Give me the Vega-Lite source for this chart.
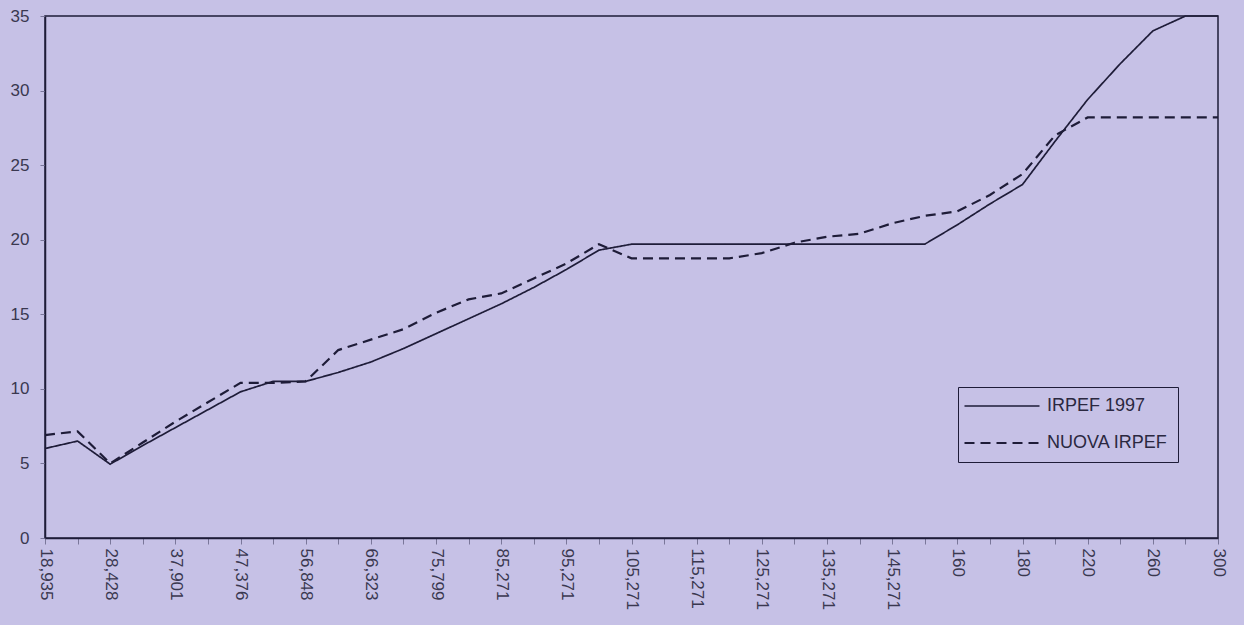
{
  "$schema": "https://vega.github.io/schema/vega-lite/v6.json",
  "width": 1173,
  "height": 522,
  "autosize": {"type": "none"},
  "padding": {"left": 45, "top": 16, "right": 26, "bottom": 87},
  "background": "#c6c1e6",
  "config": {
    "font": "Liberation Sans",
    "view": {"stroke": "#1e1c38", "strokeWidth": 1.5}
  },
  "datasets": {
    "irpef": [
      {"reddito": "18,935", "IRPEF 1997": 6.0, "NUOVA IRPEF": 6.9},
      {"reddito": "23,681", "IRPEF 1997": 6.5, "NUOVA IRPEF": 7.15},
      {"reddito": "28,428", "IRPEF 1997": 4.95, "NUOVA IRPEF": 5.0},
      {"reddito": "33,164", "IRPEF 1997": 6.2, "NUOVA IRPEF": 6.4},
      {"reddito": "37,901", "IRPEF 1997": 7.4, "NUOVA IRPEF": 7.8},
      {"reddito": "42,638", "IRPEF 1997": 8.6, "NUOVA IRPEF": 9.1},
      {"reddito": "47,376", "IRPEF 1997": 9.8, "NUOVA IRPEF": 10.4},
      {"reddito": "52,112", "IRPEF 1997": 10.5, "NUOVA IRPEF": 10.4},
      {"reddito": "56,848", "IRPEF 1997": 10.5, "NUOVA IRPEF": 10.5},
      {"reddito": "61,585", "IRPEF 1997": 11.1, "NUOVA IRPEF": 12.6},
      {"reddito": "66,323", "IRPEF 1997": 11.8, "NUOVA IRPEF": 13.3},
      {"reddito": "71,061", "IRPEF 1997": 12.7, "NUOVA IRPEF": 14.0},
      {"reddito": "75,799", "IRPEF 1997": 13.7, "NUOVA IRPEF": 15.1},
      {"reddito": "80,535", "IRPEF 1997": 14.7, "NUOVA IRPEF": 16.0},
      {"reddito": "85,271", "IRPEF 1997": 15.7, "NUOVA IRPEF": 16.4},
      {"reddito": "90,271", "IRPEF 1997": 16.8, "NUOVA IRPEF": 17.4},
      {"reddito": "95,271", "IRPEF 1997": 18.0, "NUOVA IRPEF": 18.4},
      {"reddito": "100,271", "IRPEF 1997": 19.3, "NUOVA IRPEF": 19.7},
      {"reddito": "105,271", "IRPEF 1997": 19.7, "NUOVA IRPEF": 18.75},
      {"reddito": "110,271", "IRPEF 1997": 19.7, "NUOVA IRPEF": 18.75},
      {"reddito": "115,271", "IRPEF 1997": 19.7, "NUOVA IRPEF": 18.75},
      {"reddito": "120,271", "IRPEF 1997": 19.7, "NUOVA IRPEF": 18.75},
      {"reddito": "125,271", "IRPEF 1997": 19.7, "NUOVA IRPEF": 19.1},
      {"reddito": "130,271", "IRPEF 1997": 19.7, "NUOVA IRPEF": 19.8},
      {"reddito": "135,271", "IRPEF 1997": 19.7, "NUOVA IRPEF": 20.2},
      {"reddito": "140,271", "IRPEF 1997": 19.7, "NUOVA IRPEF": 20.4},
      {"reddito": "145,271", "IRPEF 1997": 19.7, "NUOVA IRPEF": 21.1},
      {"reddito": "150", "IRPEF 1997": 19.7, "NUOVA IRPEF": 21.6},
      {"reddito": "160", "IRPEF 1997": 21.0, "NUOVA IRPEF": 21.9},
      {"reddito": "170", "IRPEF 1997": 22.4, "NUOVA IRPEF": 23.0},
      {"reddito": "180", "IRPEF 1997": 23.7, "NUOVA IRPEF": 24.4},
      {"reddito": "200", "IRPEF 1997": 26.6, "NUOVA IRPEF": 27.0},
      {"reddito": "220", "IRPEF 1997": 29.4, "NUOVA IRPEF": 28.2},
      {"reddito": "240", "IRPEF 1997": 31.8, "NUOVA IRPEF": 28.2},
      {"reddito": "260", "IRPEF 1997": 34.0, "NUOVA IRPEF": 28.2},
      {"reddito": "280", "IRPEF 1997": 35.0, "NUOVA IRPEF": 28.2},
      {"reddito": "300", "IRPEF 1997": 35.0, "NUOVA IRPEF": 28.2}
    ]
  },
  "data": {"name": "irpef"},
  "transform": [
    {"fold": ["IRPEF 1997", "NUOVA IRPEF"], "as": ["serie", "aliquota"]}
  ],
  "mark": {"type": "line", "color": "#1e1c38"},
  "encoding": {
    "x": {
      "field": "reddito",
      "type": "ordinal",
      "sort": null,
      "scale": {"type": "point", "padding": 0},
      "axis": {
        "title": null,
        "labelAngle": 90,
        "labelAlign": "left",
        "labelBaseline": "middle",
        "labelOverlap": false,
        "labelFontSize": 17,
        "labelColor": "#3a3850",
        "labelPadding": 4,
        "labelExpr": "indexof(['18,935','28,428','37,901','47,376','56,848','66,323','75,799','85,271','95,271','105,271','115,271','125,271','135,271','145,271','160','180','220','260','300'], datum.label) >= 0 ? datum.label : ''",
        "domainColor": "#1e1c38",
        "domainWidth": 1.5,
        "tickColor": "#7a779a",
        "tickSize": 6,
        "grid": false
      }
    },
    "y": {
      "field": "aliquota",
      "type": "quantitative",
      "scale": {"domain": [0, 35], "nice": false},
      "axis": {
        "title": null,
        "values": [0, 5, 10, 15, 20, 25, 30, 35],
        "grid": false,
        "labelFontSize": 17,
        "labelColor": "#3a3850",
        "labelPadding": 11,
        "domainColor": "#1e1c38",
        "domainWidth": 1.5,
        "tickColor": "#7a779a",
        "tickSize": 5
      }
    },
    "strokeWidth": {
      "field": "serie",
      "type": "nominal",
      "scale": {"domain": ["IRPEF 1997", "NUOVA IRPEF"], "range": [1.7, 2.2]},
      "legend": null
    },
    "strokeDash": {
      "field": "serie",
      "type": "nominal",
      "scale": {"domain": ["IRPEF 1997", "NUOVA IRPEF"], "range": [[1, 0], [10, 6]]},
      "legend": {
        "orient": "none",
        "legendX": 913,
        "legendY": 371,
        "title": null,
        "strokeColor": "#1e1c38",
        "fillColor": "#c6c1e6",
        "padding": 10,
        "symbolType": "M-5,0H5",
        "symbolSize": 225,
        "symbolStrokeColor": "#1e1c38",
        "symbolStrokeWidth": 1.7,
        "symbolOffset": 25,
        "labelOffset": 36,
        "labelFontSize": 18,
        "labelColor": "#2a2840",
        "rowPadding": 19
      }
    }
  }
}
